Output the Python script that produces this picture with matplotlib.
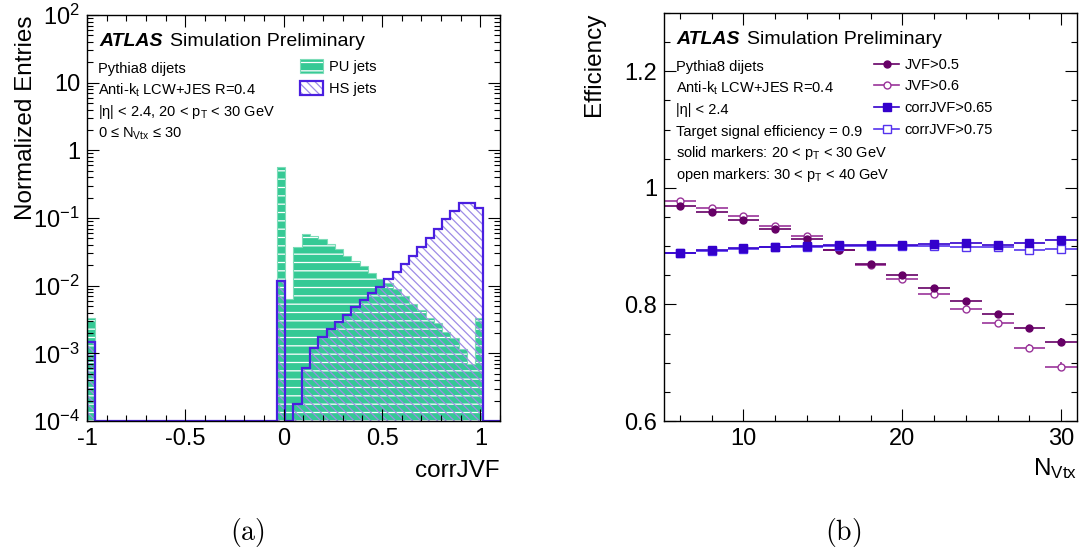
import matplotlib
matplotlib.use('Agg')
import matplotlib.pyplot as plt
from matplotlib.patches import Patch
from matplotlib.lines import Line2D
from matplotlib.ticker import FixedLocator, MultipleLocator, LogLocator, FuncFormatter, NullFormatter
import numpy as np

# corrJVF distributions: 50 bins between -1 and 1.1
jvf_range = (-1.0, 1.1)
n_bins = 50
pu_jets = [0.0033] + [0.0] * 22 + [
    0.56, 0.0063, 0.0377, 0.058, 0.0547, 0.049, 0.0413, 0.0348, 0.0274, 0.0234,
    0.0195, 0.0155, 0.0124, 0.0108, 0.0088, 0.0071, 0.0054, 0.0043, 0.0033, 0.0028,
    0.0021, 0.00167, 0.00115, 0.0007, 0.0033, 0.0, 0.0]
hs_jets = [0.00146] + [0.0] * 22 + [
    0.0118, 0.0, 0.000176, 0.0006, 0.00119, 0.00176, 0.00226, 0.00293, 0.00368, 0.00489,
    0.00614, 0.0077, 0.00946, 0.0124, 0.0157, 0.0207, 0.0274, 0.0372, 0.0512, 0.0687,
    0.0955, 0.128, 0.168, 0.166, 0.142, 0.0, 0.0]
entry_ticks = [1e-4, 1e-3, 1e-2, 1e-1, 1, 10, 100]
entry_labels = ['10$^{-4}$', '10$^{-3}$', '10$^{-2}$', '10$^{-1}$', '1', '10', '10$^{2}$']
jvf_ticks = [-1, -0.5, 0, 0.5, 1]

# efficiency vs number of vertices
n_vtx = [6, 8, 10, 12, 14, 16, 18, 20, 22, 24, 26, 28, 30]
n_vtx_half = 1
jvf_05 = [0.969, 0.958, 0.945, 0.929, 0.912, 0.893, 0.870, 0.850, 0.829, 0.806, 0.783, 0.760, 0.736]
jvf_05_err = [0.001, 0.001, 0.001, 0.002, 0.002, 0.002, 0.002, 0.003, 0.003, 0.003, 0.004, 0.005, 0.007]
jvf_06 = [0.977, 0.966, 0.951, 0.934, 0.917, 0.894, 0.868, 0.843, 0.818, 0.792, 0.769, 0.726, 0.693]
jvf_06_err = [0.001, 0.001, 0.001, 0.002, 0.002, 0.002, 0.003, 0.003, 0.003, 0.004, 0.005, 0.006, 0.008]
corr_065 = [0.889, 0.893, 0.896, 0.899, 0.900, 0.902, 0.902, 0.902, 0.904, 0.905, 0.902, 0.905, 0.910]
corr_065_err = [0.001, 0.001, 0.001, 0.001, 0.001, 0.002, 0.002, 0.002, 0.002, 0.003, 0.003, 0.003, 0.004]
corr_075 = [0.888, 0.892, 0.895, 0.898, 0.899, 0.901, 0.901, 0.900, 0.900, 0.898, 0.898, 0.894, 0.895]
corr_075_err = [0.001, 0.001, 0.001, 0.001, 0.001, 0.002, 0.002, 0.002, 0.002, 0.003, 0.003, 0.003, 0.004]

green = '#35c995'
hs_blue = '#4a1fe0'
hs_hatch = '#9d8ce6'
purple_dark = '#660066'
purple_light = '#993399'
blue_dark = '#3300cc'
blue_light = '#5533ee'
hs_pattern = '\\\\\\\\'

plt.rcParams['font.family'] = ['Liberation Sans', 'DejaVu Sans']
plt.rcParams['mathtext.fontset'] = 'custom'
plt.rcParams['mathtext.rm'] = 'Liberation Sans'
plt.rcParams['mathtext.it'] = 'Liberation Sans:italic'
plt.rcParams['mathtext.bf'] = 'Liberation Sans:bold'
plt.rcParams['axes.unicode_minus'] = False
plt.rcParams['hatch.linewidth'] = 0.9


def style_axes(ax):
    ax.tick_params(which='both', direction='in', top=True, right=True, labelsize=17, width=0.8)
    ax.tick_params(which='major', length=8.5, pad=5)
    ax.tick_params(which='minor', length=4.3)
    for spine in ax.spines.values():
        spine.set_linewidth(1.0)


def atlas_label(ax, x, y):
    t = ax.text(x, y, 'ATLAS', transform=ax.transAxes, fontsize=14, fontweight='bold',
                fontstyle='italic', va='center', ha='left')
    ax.annotate('Simulation Preliminary', xy=(1, 0), xycoords=t, xytext=(5, 0),
                textcoords='offset points', fontsize=14, va='bottom', ha='left')


def draw_histograms(ax):
    edges = np.linspace(jvf_range[0], jvf_range[1], n_bins + 1)
    ymin = entry_ticks[0]
    pu = np.clip(np.array(pu_jets), ymin, None)
    hs = np.clip(np.array(hs_jets), ymin, None)

    ax.stairs(pu, edges, baseline=ymin, fill=True, facecolor=green, edgecolor='white',
              hatch='--', linewidth=0)
    ax.stairs(pu, edges, baseline=ymin, color='#7ddcb8', linewidth=0.8)
    ax.stairs(hs, edges, baseline=ymin, fill=True, facecolor='none', edgecolor=hs_hatch,
              hatch=hs_pattern, linewidth=0)
    ax.stairs(hs, edges, baseline=ymin, color=hs_blue, linewidth=1.6)

    ax.set_yscale('log')
    ax.set_xlim(jvf_range)
    ax.set_ylim(entry_ticks[0], entry_ticks[-1])
    ax.yaxis.set_major_locator(FixedLocator(entry_ticks))
    ax.yaxis.set_major_formatter(FuncFormatter(lambda v, p: entry_labels[entry_ticks.index(v)]
                                               if v in entry_ticks else ''))
    ax.yaxis.set_minor_locator(LogLocator(base=10, subs=np.arange(2, 10)))
    ax.yaxis.set_minor_formatter(NullFormatter())
    ax.xaxis.set_major_locator(FixedLocator(jvf_ticks))
    ax.xaxis.set_minor_locator(MultipleLocator(0.1))
    ax.xaxis.set_major_formatter(FuncFormatter(lambda v, p: '%g' % v))
    style_axes(ax)

    ax.set_ylabel('Normalized Entries', fontsize=17.5, loc='top')
    ax.yaxis.set_label_coords(-0.12, 1.0)
    ax.set_xlabel('corrJVF', fontsize=17.5, loc='right')
    ax.xaxis.set_label_coords(1.0, -0.095)

    atlas_label(ax, 0.031, 0.934)
    info = ['Pythia8 dijets', 'Anti-k$_{\\mathrm{t}}$ LCW+JES R=0.4',
            '|\u03b7| < 2.4, 20 < p$_{\\mathrm{T}}$ < 30 GeV',
            '0 \u2264 N$_{\\mathrm{Vtx}}$ \u2264 30']
    for i, line in enumerate(info):
        ax.text(0.027, 0.868 - 0.0535 * i, line, transform=ax.transAxes, fontsize=10.5,
                va='center', ha='left')

    pu_box = (Patch(facecolor=green, edgecolor='white', hatch='--', linewidth=0),
              Patch(facecolor='none', edgecolor='#7ddcb8', linewidth=0.8))
    hs_box = (Patch(facecolor='white', edgecolor=hs_hatch, hatch=hs_pattern, linewidth=0),
              Patch(facecolor='none', edgecolor=hs_blue, linewidth=1.6))
    ax.legend([pu_box, hs_box], ['PU jets', 'HS jets'], loc='upper left',
              bbox_to_anchor=(0.516, 0.892), frameon=False, fontsize=10.5,
              handlelength=1.6, handleheight=1.1, handletextpad=0.35, labelspacing=0.52,
              borderpad=0, borderaxespad=0)


def draw_efficiency(ax):
    ax.errorbar(n_vtx, jvf_06, xerr=n_vtx_half, yerr=jvf_06_err, fmt='o', color=purple_light,
                mfc='white', mec=purple_light, ms=5, elinewidth=1.2, capsize=0)
    ax.errorbar(n_vtx, jvf_05, xerr=n_vtx_half, yerr=jvf_05_err, fmt='o', color=purple_dark,
                ms=5, elinewidth=1.2, capsize=0)
    ax.errorbar(n_vtx, corr_075, xerr=n_vtx_half, yerr=corr_075_err, fmt='s', color=blue_light,
                mfc='white', mec=blue_light, ms=5.5, elinewidth=1.2, capsize=0)
    ax.errorbar(n_vtx, corr_065, xerr=n_vtx_half, yerr=corr_065_err, fmt='s', color=blue_dark,
                ms=5.5, elinewidth=1.2, capsize=0)

    ax.set_xlim(5, 31)
    ax.set_ylim(0.6, 1.3)
    ax.xaxis.set_major_locator(MultipleLocator(10))
    ax.xaxis.set_minor_locator(MultipleLocator(2))
    ax.yaxis.set_major_locator(MultipleLocator(0.2))
    ax.yaxis.set_minor_locator(MultipleLocator(0.05))
    fmt = FuncFormatter(lambda v, p: '%g' % round(v, 3))
    ax.xaxis.set_major_formatter(fmt)
    ax.yaxis.set_major_formatter(fmt)
    style_axes(ax)

    ax.set_ylabel('Efficiency', fontsize=17.5, loc='top')
    ax.yaxis.set_label_coords(-0.143, 1.0)
    ax.set_xlabel('N$_{\\mathrm{Vtx}}$', fontsize=17.5, loc='right')
    ax.xaxis.set_label_coords(1.0, -0.085)

    atlas_label(ax, 0.031, 0.936)
    info = ['Pythia8 dijets', 'Anti-k$_{\\mathrm{t}}$ LCW+JES R=0.4', '|\u03b7| < 2.4',
            'Target signal efficiency = 0.9',
            'solid markers: 20 < p$_{\\mathrm{T}}$ < 30 GeV',
            'open markers: 30 < p$_{\\mathrm{T}}$ < 40 GeV']
    for i, line in enumerate(info):
        ax.text(0.029, 0.868 - 0.053 * i, line, transform=ax.transAxes, fontsize=10.5,
                va='center', ha='left')

    handles = [Line2D([], [], color=purple_dark, marker='o', ms=5, lw=1.2),
               Line2D([], [], color=purple_light, marker='o', mfc='white', ms=5, lw=1.2),
               Line2D([], [], color=blue_dark, marker='s', ms=5.5, lw=1.2),
               Line2D([], [], color=blue_light, marker='s', mfc='white', ms=5.5, lw=1.2)]
    labels = ['JVF>0.5', 'JVF>0.6', 'corrJVF>0.65', 'corrJVF>0.75']
    ax.legend(handles, labels, loc='upper left', bbox_to_anchor=(0.508, 0.89), frameon=False,
              fontsize=10.5, handlelength=1.75, handletextpad=0.35, labelspacing=0.52,
              borderpad=0, borderaxespad=0)


def main():
    fig = plt.figure(figsize=(10.87, 5.51), dpi=100)
    ax1 = fig.add_axes([0.0800, 0.2359, 0.380, 0.7368])
    ax2 = fig.add_axes([0.6109, 0.2359, 0.380, 0.7405])
    draw_histograms(ax1)
    draw_efficiency(ax2)
    fig.text(0.2272, 0.0327, '$\\mathrm{(a)}$', math_fontfamily='cm', fontsize=20,
             ha='center', va='center')
    fig.text(0.7753, 0.0327, '$\\mathrm{(b)}$', math_fontfamily='cm', fontsize=20,
             ha='center', va='center')
    fig.savefig('out.png', dpi=100)


if __name__ == "__main__":
    main()
